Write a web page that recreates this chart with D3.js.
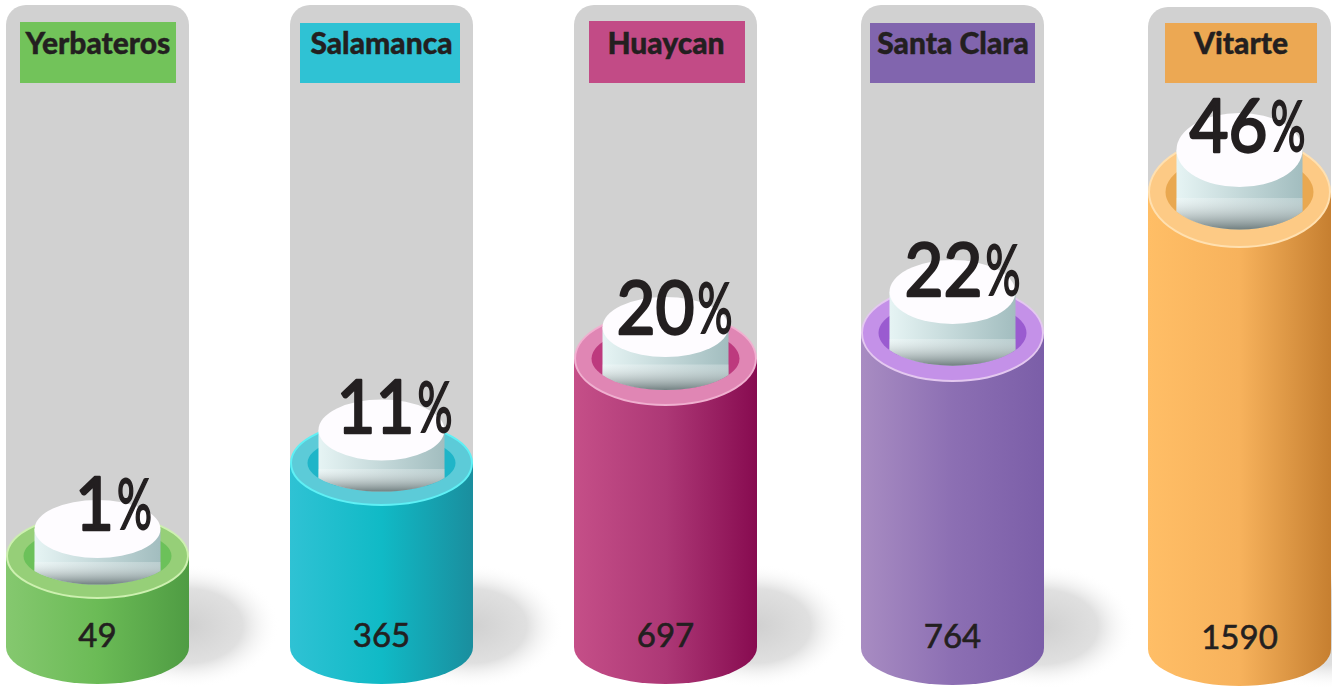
<!DOCTYPE html>
<html>
<head>
<meta charset="utf-8">
<script src="https://cdnjs.cloudflare.com/ajax/libs/d3/7.8.5/d3.min.js"></script>
<style>
  html, body { margin: 0; padding: 0; background: #fff; }
  svg { display: block; }
</style>
</head>
<body>
<svg id="chart"></svg>
<script>
const categories = ['Yerbateros', 'Salamanca', 'Huaycan', 'Santa Clara', 'Vitarte'];
const counts = [49, 365, 697, 764, 1590];
const percents = [1, 11, 20, 22, 46];

const svgWidth = 1332, svgHeight = 688;
const bodyWidth = 183, rx = bodyWidth / 2;

// column left edges in the picture are not evenly spaced
let x = d3.scaleOrdinal().domain(categories).range([6, 290, 574, 861, 1148]);
let panelTop = d3.scaleOrdinal().domain(categories).range([5, 5, 5, 5, 7]);
let baseY = d3.scaleOrdinal().domain(categories).range([684, 684, 684, 685, 686]);
let boxX = d3.scaleOrdinal().domain(categories).range([20, 300, 589, 870, 1165]);
let boxW = d3.scaleOrdinal().domain(categories).range([156, 160, 156, 165, 152]);
let boxTop = d3.scaleOrdinal().domain(categories).range([22, 23, 21, 23, 23]);
let nameX = d3.scaleOrdinal().domain(categories).range([98, 381.5, 666, 953, 1241]);

// height of the rim. the picture is not proportional, so it is piecewise
let y = d3.scaleLinear().domain(percents).range([556, 463, 358.5, 333, 192]);
let ry = d3.scaleLinear().domain(percents).range([42, 42, 46.5, 48, 55]);
// white cylinder sits a bit differently in each column
let lift = d3.scaleLinear().domain(percents).range([27, 33, 31.5, 41, 42]);
let innerRy = d3.scaleLinear().domain(percents).range([29, 30.5, 30, 32, 37]);
let pctBase = d3.scaleLinear().domain(percents).range([1, 3, 7, 4, 2]);
let pctShift = d3.scaleLinear().domain(percents).range([16, 13, 9, 10, 8]);

let boxColor = d3.scaleOrdinal().domain(categories).range(['#72c35a', '#2fc2d4', '#c24b86', '#8165ae', '#eca853']);
let bodyStops = d3.scaleOrdinal().domain(categories).range([
  ['#85c86f', '#6bbb56', '#4f9c43'],
  ['#2fc2d4', '#10bac6', '#1a8e9e'],
  ['#c54f88', '#ad3876', '#870b50'],
  ['#a88cc2', '#8c6fb3', '#7b5ea8'],
  ['#ffbe66', '#f7b25c', '#c67f30']
]);
let rimColor = d3.scaleOrdinal().domain(categories).range(['#96cf78', '#5ccbd8', '#e086b4', '#c491e8', '#fdca85']);
let rimEdge = d3.scaleOrdinal().domain(categories).range(['#cdf0b0', '#5ff0f5', '#f0b0d0', '#e4c8f0', '#ffe0b0']);
let holeColor = d3.scaleOrdinal().domain(categories).range(['#6cc15a', '#1fb5c8', '#bd3a7e', '#9a5bd0', '#e9a850']);

let rows = categories.map((c, i) => ({name: c, count: counts[i], pct: percents[i]}));

let svg = d3.select('#chart').attr('width', svgWidth).attr('height', svgHeight);
let defs = svg.append('defs');

// gradients
rows.forEach((d, i) => {
  let g = defs.append('linearGradient').attr('id', 'body' + i);
  bodyStops(d.name).forEach((c, j) => {
    g.append('stop').attr('offset', j * 50 + '%').attr('stop-color', c);
  });
});
let side = defs.append('linearGradient').attr('id', 'side');
side.append('stop').attr('offset', '0%').attr('stop-color', '#e6f4f4');
side.append('stop').attr('offset', '100%').attr('stop-color', '#a2bdbf');
let lower = defs.append('linearGradient').attr('id', 'lower').attr('x2', 0).attr('y2', 1);
lower.append('stop').attr('offset', '0%').attr('stop-color', '#fff').attr('stop-opacity', 0.25);
lower.append('stop').attr('offset', '100%').attr('stop-color', '#6d7b7c').attr('stop-opacity', 0.95);
let shadow = defs.append('radialGradient').attr('id', 'shadow');
shadow.append('stop').attr('offset', '0%').attr('stop-color', '#d0d0d0');
shadow.append('stop').attr('offset', '60%').attr('stop-color', '#e0e0e0');
shadow.append('stop').attr('offset', '100%').attr('stop-color', '#fff').attr('stop-opacity', 0);

let col = svg.selectAll('g.col').data(rows).enter().append('g')
  .attr('class', 'col')
  .attr('transform', d => `translate(${x(d.name)},0)`);

// shadow first so the panel sits on top of it
col.append('ellipse')
  .attr('cx', rx + 90).attr('cy', d => baseY(d.name) - 58)
  .attr('rx', 92).attr('ry', 62)
  .attr('fill', 'url(#shadow)');

// grey panel
col.append('path')
  .attr('fill', '#d1d1d1')
  .attr('d', d => {
    let t = panelTop(d.name), b = y(d.pct), r = 20;
    return `M0,${b}V${t + r}A${r},${r} 0 0 1 ${r},${t}H${bodyWidth - r}A${r},${r} 0 0 1 ${bodyWidth},${t + r}V${b}Z`;
  });

// outer cylinder
col.append('path')
  .attr('fill', (d, i) => `url(#body${i})`)
  .attr('d', d => {
    let c = baseY(d.name) - 37;
    return `M0,${y(d.pct)}V${c}A${rx},37 0 0 0 ${bodyWidth},${c}V${y(d.pct)}Z`;
  });

col.append('ellipse')
  .attr('cx', rx).attr('cy', d => y(d.pct))
  .attr('rx', rx - 1).attr('ry', d => ry(d.pct))
  .attr('fill', d => rimColor(d.name))
  .attr('stroke', d => rimEdge(d.name)).attr('stroke-width', 2);

const holeRx = 74;
let holeRy = d => ry(d.pct) * 0.68;
col.append('ellipse')
  .attr('cx', rx).attr('cy', d => y(d.pct))
  .attr('rx', holeRx).attr('ry', holeRy)
  .attr('fill', d => holeColor(d.name));

// inner white cylinder
const innerHalf = 63;
let innerY = d => y(d.pct) - lift(d.pct);
let sideEnd = d => y(d.pct) + holeRy(d) * Math.sqrt(1 - (innerHalf / holeRx) ** 2);

col.append('path')
  .attr('fill', 'url(#side)')
  .attr('d', d => `M${rx - innerHalf},${innerY(d)}V${sideEnd(d)}A${holeRx},${holeRy(d)} 0 0 0 ${rx + innerHalf},${sideEnd(d)}V${innerY(d)}Z`);
col.append('path')
  .attr('fill', 'url(#lower)')
  .attr('d', d => `M${rx - innerHalf},${y(d.pct) + 6}V${sideEnd(d)}A${holeRx},${holeRy(d)} 0 0 0 ${rx + innerHalf},${sideEnd(d)}V${y(d.pct) + 6}Z`);
col.append('ellipse')
  .attr('cx', rx).attr('cy', innerY)
  .attr('rx', innerHalf).attr('ry', d => innerRy(d.pct))
  .attr('fill', '#fefcff');

// label boxes
svg.selectAll('rect.box').data(rows).enter().append('rect')
  .attr('class', 'box')
  .attr('x', d => boxX(d.name)).attr('y', d => boxTop(d.name))
  .attr('width', d => boxW(d.name)).attr('height', d => 83 - boxTop(d.name))
  .attr('fill', d => boxColor(d.name));
svg.selectAll('text.name').data(rows).enter().append('text')
  .attr('class', 'name')
  .attr('x', d => nameX(d.name)).attr('y', 54)
  .attr('text-anchor', 'middle')
  .attr('font-family', 'Lato').attr('font-weight', 900).attr('font-size', 30)
  .attr('fill', '#231f20').attr('stroke', '#231f20').attr('stroke-width', 0.4)
  .text(d => d.name);

// counts
col.append('text')
  .attr('x', rx).attr('y', d => baseY(d.name) - 37)
  .attr('text-anchor', 'middle')
  .attr('font-family', 'Lato').attr('font-size', 33)
  .attr('fill', '#231f20').attr('stroke', '#231f20').attr('stroke-width', 0.6)
  .text(d => d.count);

// percents, squeezed to the narrow lettering of the original
const digitW = 39, signW = 35;
let pctStart = d => rx + pctShift(d.pct) - (String(d.pct).length * digitW + signW + 3) / 2;

// scale a text horizontally so it takes up the wanted width
let squeeze = (sel, px, py, w) => sel.each(function(d) {
  let sx = w(d) / this.getComputedTextLength();
  d3.select(this).attr('transform', `translate(${px(d)},${py(d)}) scale(${sx},1)`);
});

col.append('text')
  .attr('font-family', 'Lato').attr('font-size', 74)
  .attr('fill', '#231f20').attr('stroke', '#231f20').attr('stroke-width', 2.4)
  .attr('stroke-linejoin', 'round')
  .text(d => d.pct)
  .call(squeeze, pctStart, d => innerY(d) + pctBase(d.pct), d => String(d.pct).length * digitW);

col.append('text')
  .attr('font-family', 'Lato').attr('font-size', 70)
  .attr('fill', '#231f20').attr('stroke', '#231f20').attr('stroke-width', 2)
  .text('%')
  .call(squeeze, d => pctStart(d) + String(d.pct).length * digitW + 3, d => innerY(d) + pctBase(d.pct) - 1, () => signW);
</script>
</body>
</html>
